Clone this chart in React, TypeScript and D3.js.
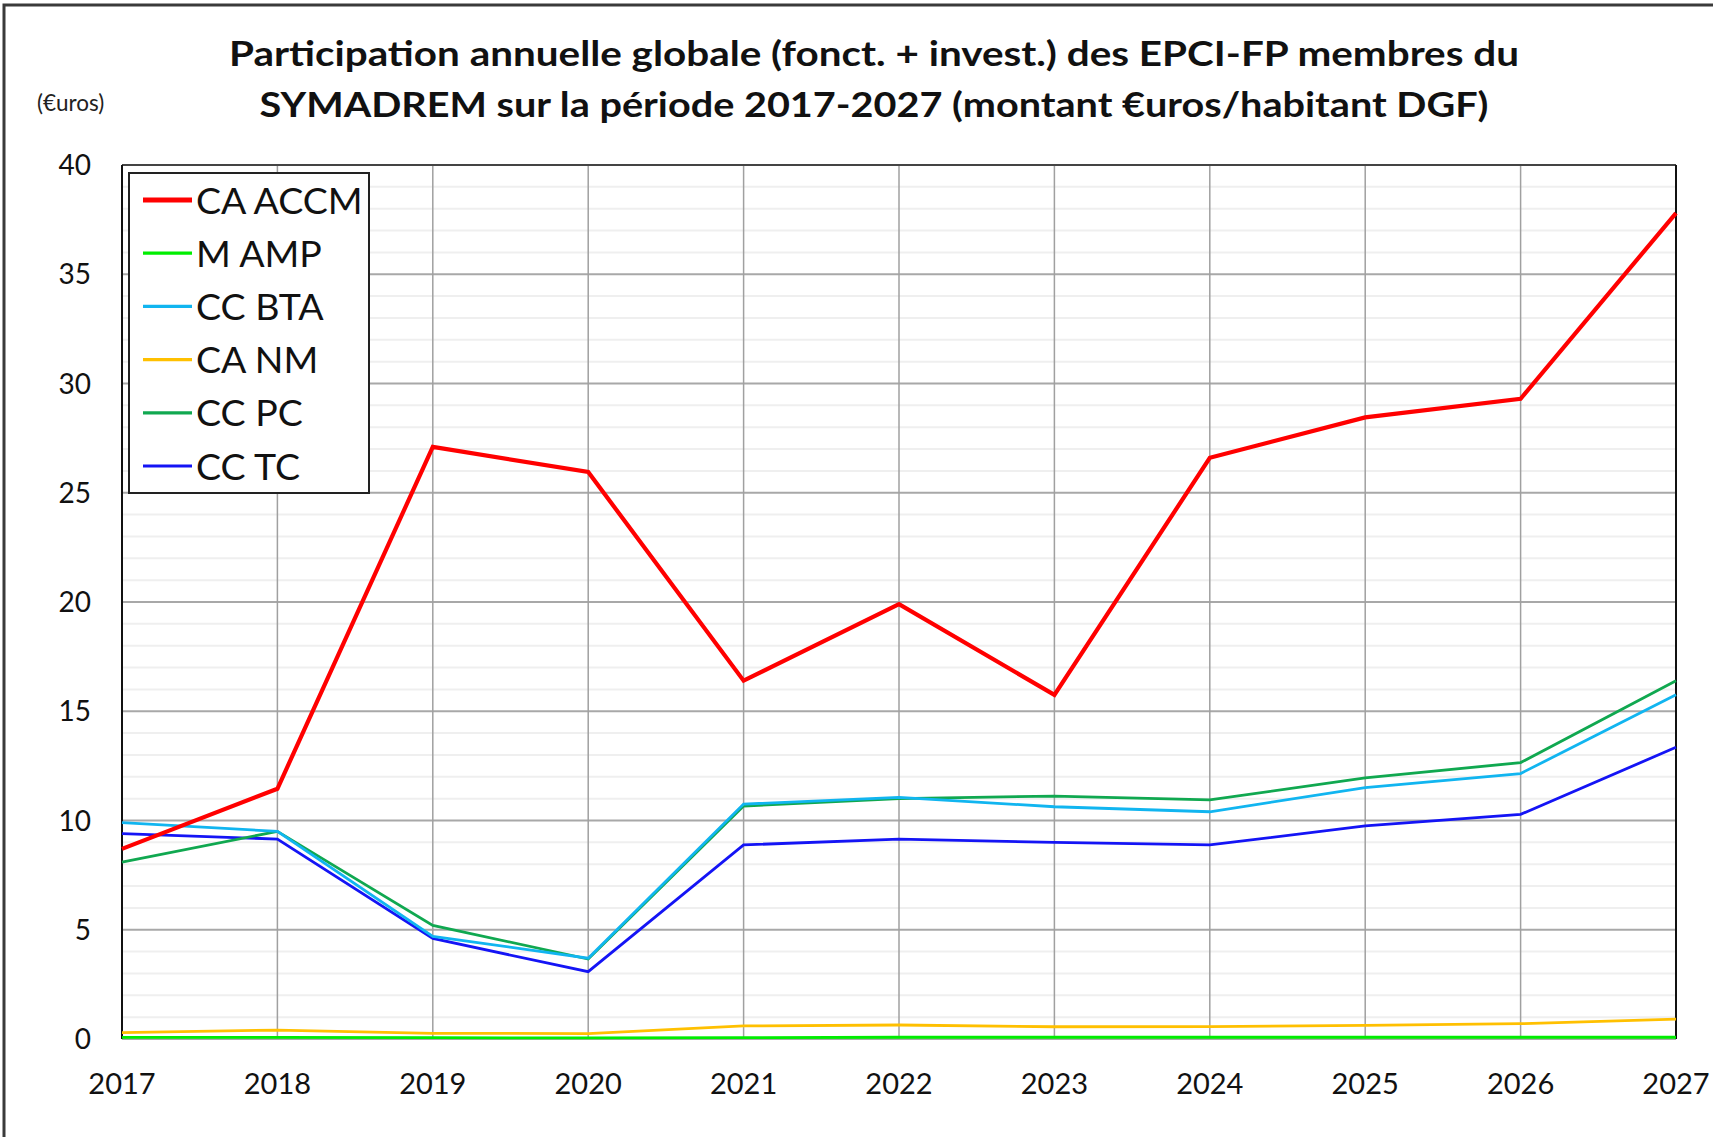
import { useMemo } from 'react';
import * as d3 from 'd3';

const YEARS = [2017, 2018, 2019, 2020, 2021, 2022, 2023, 2024, 2025, 2026, 2027];

const CA_ACCM = [8.7, 11.45, 27.1, 25.95, 16.4, 19.9, 15.75, 26.6, 28.45, 29.3, 37.8];
const M_AMP = [0.07, 0.07, 0.06, 0.05, 0.06, 0.08, 0.08, 0.08, 0.08, 0.08, 0.08];
const CC_BTA = [9.9, 9.5, 4.7, 3.7, 10.75, 11.06, 10.63, 10.4, 11.5, 12.15, 15.75];
const CA_NM = [0.29, 0.41, 0.26, 0.25, 0.6, 0.64, 0.56, 0.57, 0.62, 0.7, 0.91];
const CC_PC = [8.1, 9.5, 5.2, 3.66, 10.66, 11.0, 11.12, 10.94, 11.95, 12.65, 16.4];
const CC_TC = [9.4, 9.15, 4.6, 3.08, 8.88, 9.15, 9.0, 8.88, 9.75, 10.28, 13.35];

const SERIES = [
  { name: 'CA ACCM', values: CA_ACCM, color: '#ff0000', width: 4.2 },
  { name: 'M AMP', values: M_AMP, color: '#00ee00', width: 2.8 },
  { name: 'CC BTA', values: CC_BTA, color: '#11b5f0', width: 2.8 },
  { name: 'CA NM', values: CA_NM, color: '#ffc000', width: 2.8 },
  { name: 'CC PC', values: CC_PC, color: '#10a850', width: 2.8 },
  { name: 'CC TC', values: CC_TC, color: '#1414f5', width: 2.8 },
];

const Y_TICKS = [0, 5, 10, 15, 20, 25, 30, 35, 40];

const TITLE_1 = 'Participation annuelle globale (fonct. + invest.) des EPCI-FP membres du';
const TITLE_2 = 'SYMADREM sur la période 2017-2027 (montant €uros/habitant DGF)';

const W = 1713;
const H = 1137;
const PLOT = { left: 122, right: 1676, top: 165, bottom: 1039 };
const FONT = 'Lato, "Open Sans", sans-serif';

export default function App() {
  const x = useMemo(
    () => d3.scaleLinear().domain([2017, 2027]).range([PLOT.left, PLOT.right]),
    []
  );
  const y = useMemo(
    () => d3.scaleLinear().domain([0, 40]).range([PLOT.bottom, PLOT.top]),
    []
  );

  const line = d3
    .line<number>()
    .x((_, i) => x(YEARS[i]))
    .y((d) => y(d));

  const minorTicks = d3.range(1, 40).filter((v) => v % 5 !== 0);

  return (
    <svg
      width={W}
      height={H}
      style={{ position: 'absolute', left: 0, top: 0, background: '#fff' }}
      fontFamily={FONT}
    >
      {/* outer frame */}
      <rect x={4} y={5} width={W + 20} height={H + 20} fill="none" stroke="#3a3a3a" strokeWidth={3} />

      <text x={874} y={66} textAnchor="middle" fontSize={35} fontWeight={700} fill="#111"
        textLength={1290} lengthAdjust="spacingAndGlyphs">
        {TITLE_1}
      </text>
      <text x={874} y={117} textAnchor="middle" fontSize={35} fontWeight={700} fill="#111"
        textLength={1229} lengthAdjust="spacingAndGlyphs">
        {TITLE_2}
      </text>
      <text x={37} y={111} fontSize={22.5} fill="#222">(€uros)</text>

      {/* minor gridlines */}
      {minorTicks.map((v) => (
        <line key={'m' + v} x1={PLOT.left} x2={PLOT.right} y1={y(v)} y2={y(v)}
          stroke="#efefef" strokeWidth={2} />
      ))}
      {/* major gridlines */}
      {Y_TICKS.map((v) => (
        <line key={'M' + v} x1={PLOT.left} x2={PLOT.right} y1={y(v)} y2={y(v)}
          stroke="#a8a8a8" strokeWidth={2} />
      ))}
      {YEARS.map((yr) => (
        <line key={'v' + yr} x1={x(yr)} x2={x(yr)} y1={PLOT.top} y2={PLOT.bottom}
          stroke="#a0a0a0" strokeWidth={1.5} />
      ))}
      {/* plot frame */}
      <line x1={PLOT.left} x2={PLOT.right} y1={PLOT.top} y2={PLOT.top} stroke="#444" strokeWidth={2} />
      <line x1={PLOT.left} x2={PLOT.left} y1={PLOT.top} y2={PLOT.bottom} stroke="#111" strokeWidth={2} />
      <line x1={PLOT.right} x2={PLOT.right} y1={PLOT.top} y2={PLOT.bottom} stroke="#111" strokeWidth={2} />

      {/* axis labels */}
      {Y_TICKS.map((v) => (
        <text key={'yl' + v} x={91} y={y(v)} dy="0.36em" textAnchor="end" fontSize={28} fill="#111">
          {v}
        </text>
      ))}
      {YEARS.map((yr) => (
        <text key={'xl' + yr} x={x(yr)} y={1094} textAnchor="middle" fontSize={29} fill="#111">
          {yr}
        </text>
      ))}

      {/* series, drawn so red stays on top */}
      {[...SERIES].reverse().map((s) => (
        <path key={s.name} d={line(s.values) ?? ''} fill="none" stroke={s.color}
          strokeWidth={s.width} strokeLinejoin="miter" />
      ))}

      {/* legend */}
      <rect x={129} y={173} width={240} height={320} fill="#fff" stroke="#222" strokeWidth={2} />
      {SERIES.map((s, i) => {
        const cy = 200 + i * 53.2;
        return (
          <g key={'lg' + s.name}>
            <line x1={143} x2={192} y1={cy} y2={cy} stroke={s.color} strokeWidth={i === 0 ? 5 : 3.2} />
            <text x={196} y={cy} dy="0.36em" fontSize={37.5} fill="#111">{s.name}</text>
          </g>
        );
      })}
    </svg>
  );
}
